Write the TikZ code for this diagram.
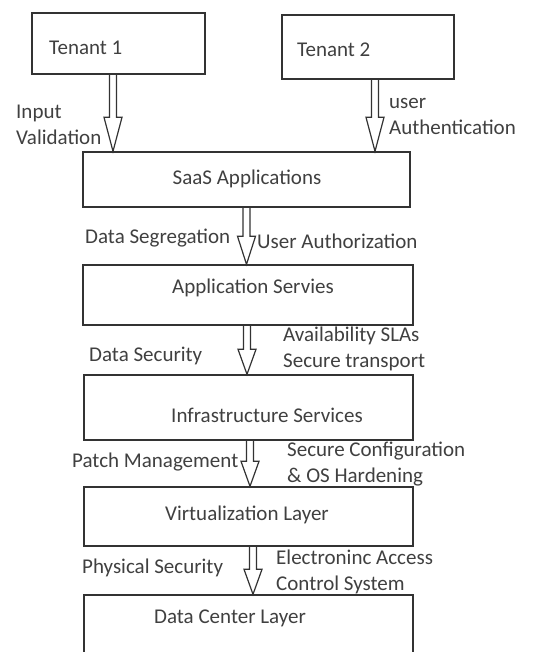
\documentclass[tikz,border=0pt]{standalone}
\usepackage{fontspec}
\setmainfont{Carlito}
\usepackage{tikz}
\usetikzlibrary{calc}

\tikzset{
  headlen/.store in=\headlen, headlen=25,
  layer/.style={draw=black!80, line width=1.4pt, inner sep=0pt},
  lbl/.style={text=black!75, font=\fontsize{21}{26}\selectfont, inner sep=0pt, align=left},
  hollow/.style={draw=black!80, line width=1.2pt, line join=miter, to path={
    ($(\tikztostart)+(-3.5,0)$) -- ($(\tikztotarget)+(-3.5,-\headlen)$)
    -- ($(\tikztotarget)+(-9,-\headlen)$) -- (\tikztotarget)
    -- ($(\tikztotarget)+(9,-\headlen)$) -- ($(\tikztotarget)+(3.5,-\headlen)$)
    -- ($(\tikztostart)+(3.5,0)$)}}
}

\begin{document}
\begin{tikzpicture}[x=1pt, y=-1pt]
  \useasboundingbox[fill=white] (0,0) rectangle (546,652);
  \clip (0,0) rectangle (546,652);

  % boxes
  \node[layer, minimum width=173pt, minimum height=61pt] (tenant1) at (118.5,43.5) {};
  \node[layer, minimum width=172pt, minimum height=64pt] (tenant2) at (368,47) {};
  \node[layer, minimum width=327pt, minimum height=55pt] (saas)    at (246.5,179.5) {};
  \node[layer, minimum width=330pt, minimum height=60pt] (appsvc)  at (248,295) {};
  \node[layer, minimum width=329pt, minimum height=65pt] (infra)   at (248.5,407.5) {};
  \node[layer, minimum width=329pt, minimum height=59pt] (virt)    at (248.5,516.5) {};
  \node[layer, minimum width=329pt, minimum height=75pt] (dc)      at (248.5,632.5) {};

  % box texts
  \node[lbl, anchor=west] (t1txt) at (49,48) {Tenant 1};
  \node[lbl, anchor=west] (t2txt) at (297,50) {Tenant 2};
  \node[lbl] (saastxt)  at (247,179) {SaaS Applications};
  \node[lbl] (apptxt)   at (253,288) {Application Servies};
  \node[lbl] (infratxt) at (267,415) {Infrastructure Services};
  \node[lbl] (virttxt)  at (247,515) {Virtualization Layer};
  \node[lbl] (dctxt)    at (230,618) {Data Center Layer};

  % arrow feet
  \coordinate (f1) at ([xshift=-5.5pt]tenant1.south);
  \coordinate (f2) at ([xshift=7pt]tenant2.south);
  \coordinate (f3) at (saas.south);
  \coordinate (f4) at ([xshift=-1pt]appsvc.south);
  \coordinate (f5) at ([xshift=1.5pt]infra.south);
  \coordinate (f6) at ([xshift=4.5pt]virt.south);

  \draw[hollow, headlen=34] (f1) to (f1 |- saas.north);
  \draw[hollow, headlen=34] (f2) to (f2 |- saas.north);
  \draw[hollow, headlen=28] (f3) to (f3 |- appsvc.north);
  \draw[hollow] (f4) to (f4 |- infra.north);
  \draw[hollow] (f5) to (f5 |- virt.north);
  \draw[hollow] (f6) to (f6 |- dc.north);

  % labels on the arrows
  \node[lbl, anchor=west] (inval)  at (16,125)  {Input\\Validation};
  \node[lbl, anchor=west] (uauth)  at (389,116) {user\\Authentication};
  \node[lbl, anchor=west] (dseg)   at (85,238)  {Data Segregation};
  \node[lbl, anchor=west] (uautz)  at (257,241) {User Authorization};
  \node[lbl, anchor=west] (dsec)   at (89,356)  {Data Security};
  \node[lbl, anchor=west] (avail)  at (283,349) {Availability SLAs\\Secure transport};
  \node[lbl, anchor=west] (patch)  at (72,462)  {Patch Management};
  \node[lbl, anchor=west] (seccfg) at (287,464) {Secure Configuration\\\& OS Hardening};
  \node[lbl, anchor=west] (physec) at (82,568)  {Physical Security};
  \node[lbl, anchor=west] (eacs)   at (276,572) {Electroninc Access\\Control System};
\end{tikzpicture}
\end{document}
